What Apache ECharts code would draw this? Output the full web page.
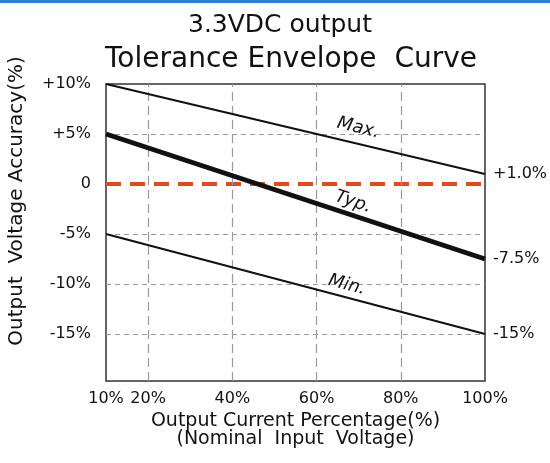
<!DOCTYPE html>
<html><head><meta charset="utf-8">
<script src="https://cdn.jsdelivr.net/npm/echarts@6/dist/echarts.min.js"></script>
<style>html,body{margin:0;padding:0;background:#fff}#c{width:550px;height:463px}</style>
</head><body><div id="c"></div>
<script>
const loadPct = [10, 100];
const maxVals = [10, 1.0];
const typVals = [5, -7.5];
const minVals = [-5, -15];
const zeroVals = [0, 0];
const xTicks = [10, 20, 40, 60, 80, 100];
const yTicks = [10, 5, 0, -5, -10, -15];
const xGrid = [20, 40, 60, 80];
const yGrid = [5, -5, -10, -15];
const lineNames = ['Max.', 'Typ.', 'Min.'];
const endTexts = ['+1.0%', '-7.5%', '-15%'];
const namePos = [[69.9, 5.6], [68.7, -1.8], [67.2, -10.1]];
const nameRot = [-13.4, -18.3, -14.8];
const lineWidths = [2, 5, 2];

const FONT = 'DejaVu Sans';
const INK = '#111';
const pair = (xs, ys) => xs.map((x, i) => [x, ys[i]]);

const chart = echarts.init(document.getElementById('c'), null, {renderer: 'canvas'});

const curves = [maxVals, typVals, minVals].map((vals, i) => ({
  name: lineNames[i],
  type: 'line',
  data: pair(loadPct, vals),
  symbol: 'none',
  z: 5,
  lineStyle: {color: INK, width: lineWidths[i]},
  endLabel: {show: true, formatter: endTexts[i], distance: 8, fontSize: 16, fontFamily: FONT, color: INK},
  markPoint: {
    symbol: 'circle', symbolSize: 0, silent: true,
    data: [{coord: namePos[i], label: {show: true, position: 'inside', formatter: lineNames[i], rotate: nameRot[i],
      fontStyle: 'italic', fontSize: 18, fontFamily: FONT, color: INK}}]
  }
}));

chart.setOption({
  animation: false,
  backgroundColor: '#fff',
  title: [
    {text: '3.3VDC output', left: 280, top: 13, textAlign: 'center', padding: 0,
     textStyle: {fontFamily: FONT, fontSize: 25, fontWeight: 'normal', color: INK}},
    {text: 'Tolerance Envelope  Curve', left: 291, top: 46, textAlign: 'center', padding: 0,
     textStyle: {fontFamily: FONT, fontSize: 28, fontWeight: 'normal', color: INK}}
  ],
  graphic: [
    {type: 'rect', shape: {x: 0, y: 0, width: 550, height: 3}, style: {fill: '#2a7fcf'}},
    {type: 'text', x: 17, y: 201, rotation: Math.PI / 2,
     style: {text: 'Output  Voltage Accuracy(%)', fontFamily: FONT, fontSize: 20, fill: INK, align: 'center', verticalAlign: 'middle'}}
  ],
  grid: {left: 106, right: 65, top: 84, bottom: 82, show: true, borderColor: '#333', borderWidth: 1.5, backgroundColor: 'transparent'},
  xAxis: {
    type: 'value', min: 10, max: 100,
    name: 'Output Current Percentage(%)\n(Nominal  Input  Voltage)',
    nameLocation: 'middle', nameGap: 30,
    nameTextStyle: {fontFamily: FONT, fontSize: 19, color: INK, lineHeight: 18},
    axisLine: {show: false}, axisTick: {show: false}, splitLine: {show: false},
    axisLabel: {customValues: xTicks, formatter: v => v + '%', margin: 10, fontFamily: FONT, fontSize: 16, color: INK}
  },
  yAxis: {
    type: 'value', min: -19.7, max: 10,
    axisLine: {show: false}, axisTick: {show: false}, splitLine: {show: false},
    axisLabel: {customValues: yTicks, formatter: v => v > 0 ? '+' + v + '%' : (v === 0 ? '0' : v + '%'),
      margin: 15, fontFamily: FONT, fontSize: 16, color: INK}
  },
  series: [
    {
      name: 'grid', type: 'line', data: [], silent: true, z: 1,
      markLine: {
        symbol: 'none', silent: true, label: {show: false}, animation: false,
        data: xGrid.map(v => ({xAxis: v, lineStyle: {color: '#9a9a9a', width: 1.2, type: [9, 5]}}))
          .concat(yGrid.map(v => ({yAxis: v, lineStyle: {color: '#9a9a9a', width: 1, type: [5, 4]}})))
      }
    },
    {
      name: 'zero', type: 'line', data: pair(loadPct, zeroVals), symbol: 'none', z: 3, silent: true,
      lineStyle: {color: '#e2491b', width: 4, type: [15, 9]}
    }
  ].concat(curves)
});
</script></body></html>
